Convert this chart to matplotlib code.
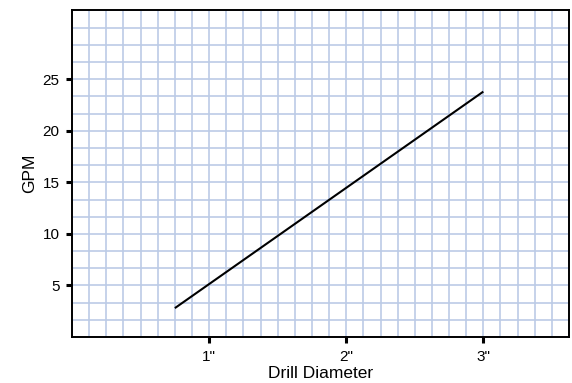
import matplotlib
matplotlib.use("Agg")
import matplotlib.pyplot as plt
from matplotlib.ticker import MultipleLocator
import numpy as np

# Flow rate versus drill diameter
diameter_in = [0.75, 3.0]
gpm = [2.8, 23.8]

x_ticks = [1, 2, 3]
x_tick_labels = ['1"', '2"', '3"']
y_ticks = [5, 10, 15, 20, 25]

plt.rcParams['font.family'] = ['Liberation Sans', 'DejaVu Sans']

fig = plt.figure(figsize=(5.72, 3.83), dpi=100)
ax = fig.add_axes([0.1259, 0.1201, 0.8689, 0.8525])

ax.set_xlim(0, 3.625)
ax.set_ylim(0, 95 / 3)

# graph-paper grid: 1/8" columns, 5/3 GPM rows
ax.xaxis.set_minor_locator(MultipleLocator(0.125))
ax.yaxis.set_minor_locator(MultipleLocator(5 / 3))
ax.grid(which='both', color='#bccbe6', linewidth=1.2)
ax.set_axisbelow(True)

ax.plot(diameter_in, gpm, color='black', linewidth=1.5, solid_capstyle='butt')

ax.set_xticks(x_ticks)
ax.set_xticklabels(x_tick_labels)
ax.set_yticks(y_ticks)
ax.tick_params(which='major', direction='out', length=4, width=2.2,
               labelsize=11, pad=5, color='black')
ax.tick_params(which='minor', length=0)

for s in ax.spines.values():
    s.set_linewidth(1.4)
    s.set_color('black')

ax.set_xlabel('Drill Diameter', fontsize=12.5, labelpad=2)
ax.set_ylabel('GPM', fontsize=12.5, labelpad=4)

fig.savefig('out.png', dpi=100)
